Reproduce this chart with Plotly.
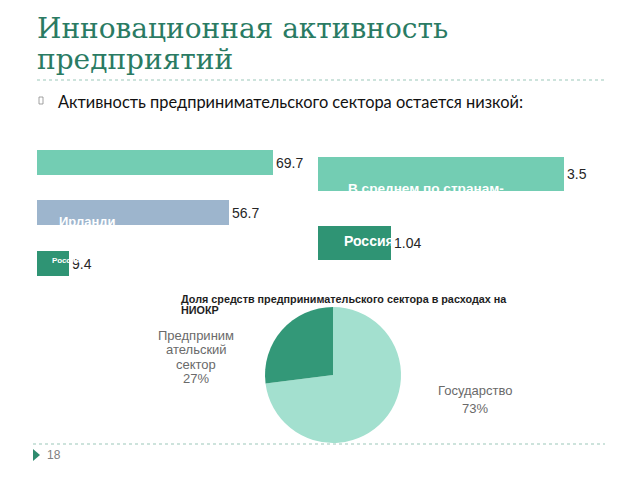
import plotly.graph_objects as go

# ---------------- data ----------------
title_lines = ["Инновационная активность", "предприятий"]
subtitle = "Активность предпринимательского сектора остается низкой:"

left_categories = ["Страна-лидер", "Ирландия", "Россия"]
left_values = [69.7, 56.7, 9.4]
left_inbar_text = ["", "Ирланди", "Россия"]

right_categories = ["В среднем по странам-лидерам", "Россия"]
right_values = [3.5, 1.04]
right_inbar_text = ["В среднем по странам-", "Россия"]

pie_labels = ["Государство", "Предпринимательский сектор"]
pie_values = [73, 27]
pie_label_lines = [["Государство"], ["Предприним", "ательский", "сектор"]]
pie_title_lines = ["Доля средств предпринимательского сектора в расходах на", "НИОКР"]
page_number = "18"

# ---------------- style ----------------
W, H = 640, 480
def px(x): return x / W
def py(y): return 1 - y / H

MINT = "#73cdb3"
BLUEGREY = "#9db5cd"
DARK = "#2f9474"
PIE_LIGHT = "#a3e0cf"
PIE_DARK = "#339878"
TITLE_C = "#2a7b63"
DOT_C = "#9cc7ba"

fig = go.Figure()

# left bars
fig.add_trace(go.Bar(
    y=left_categories, x=left_values, orientation="h",
    marker=dict(color=[MINT, BLUEGREY, DARK], line=dict(width=0)),
    width=0.49,
    text=[f"{v}" for v in left_values], textposition="outside",
    textfont=dict(family="Liberation Sans", size=14, color="#262626"),
    cliponaxis=False, xaxis="x", yaxis="y", showlegend=False, hoverinfo="skip"))

# right bars
fig.add_trace(go.Bar(
    y=right_categories, x=right_values, orientation="h",
    marker=dict(color=[MINT, DARK], line=dict(width=0)),
    width=0.49,
    text=[f"{v}" for v in right_values], textposition="outside",
    textfont=dict(family="Liberation Sans", size=14, color="#262626"),
    cliponaxis=False, xaxis="x2", yaxis="y2", showlegend=False, hoverinfo="skip"))

# pie
fig.add_trace(go.Pie(
    labels=pie_labels, values=pie_values, sort=False, direction="clockwise",
    rotation=0, marker=dict(colors=[PIE_LIGHT, PIE_DARK], line=dict(width=0)),
    textinfo="none", showlegend=False, hoverinfo="skip",
    domain=dict(x=[px(265), px(401)], y=[py(443), py(307)])))

ax_common = dict(visible=False, showgrid=False, zeroline=False, fixedrange=True)

# left scale: 69.7 -> 236 px
lx0, lx1 = 37, 330
lscale = 236 / 69.7
# right scale: 3.5 -> 246 px
rx0, rx1 = 318, 620
rscale = 246 / 3.5

fig.update_layout(
    width=W, height=H, autosize=False,
    margin=dict(l=0, r=0, t=0, b=0),
    paper_bgcolor="white", plot_bgcolor="rgba(0,0,0,0)",
    xaxis=dict(domain=[px(lx0), px(lx1)], range=[0, (lx1 - lx0) / lscale], anchor="y", **ax_common),
    yaxis=dict(domain=[py(288.5), py(137)], range=[2.5, -0.5], type="category",
               categoryorder="array", categoryarray=left_categories, anchor="x", **ax_common),
    xaxis2=dict(domain=[px(rx0), px(rx1)], range=[0, (rx1 - rx0) / rscale], anchor="y2", **ax_common),
    yaxis2=dict(domain=[py(277.5), py(138.5)], range=[1.5, -0.5], type="category",
                categoryorder="array", categoryarray=right_categories, anchor="x2", **ax_common),
    bargap=0,
)

ann = []
# title
ann.append(dict(text=title_lines[0], x=px(35), y=py(28), xref="paper", yref="paper",
                xanchor="left", yanchor="middle", showarrow=False,
                font=dict(family="DejaVu Serif", size=28, color=TITLE_C)))
ann.append(dict(text=title_lines[1], x=px(35), y=py(59), xref="paper", yref="paper",
                xanchor="left", yanchor="middle", showarrow=False,
                font=dict(family="DejaVu Serif", size=28, color=TITLE_C)))
# subtitle
ann.append(dict(text=subtitle, x=px(56), y=py(101), xref="paper", yref="paper",
                xanchor="left", yanchor="middle", showarrow=False,
                font=dict(family="Lato", size=16.4, color="#111111")))

# in-bar white labels (left)
left_shifts = [(0, 0, 14), (20, -9, 13), (13, 3, 8)]
for cat, t, (xs, ys, fs) in zip(left_categories, left_inbar_text, left_shifts):
    if t:
        ann.append(dict(text=f"<b>{t}</b>", x=0, y=cat, xref="x", yref="y",
                        xanchor="left", yanchor="middle", xshift=xs, yshift=ys,
                        showarrow=False,
                        font=dict(family="Liberation Sans", size=fs, color="white")))
# in-bar white labels (right)
right_shifts = [(28, -15, 13.6), (24, 2, 14)]
for cat, t, (xs, ys, fs) in zip(right_categories, right_inbar_text, right_shifts):
    ann.append(dict(text=f"<b>{t}</b>", x=0, y=cat, xref="x2", yref="y2",
                    xanchor="left", yanchor="middle", xshift=xs, yshift=ys,
                    showarrow=False,
                    font=dict(family="Liberation Sans", size=fs, color="white")))

# pie title
for i, line in enumerate(pie_title_lines):
    ann.append(dict(text=f"<b>{line}</b>", x=px(179), y=py(299 + 11 * i), xref="paper", yref="paper",
                    xanchor="left", yanchor="middle", showarrow=False,
                    font=dict(family="Liberation Sans", size=10.8, color="#1e1e1e")))

# pie labels
pie_label_pos = [(475, [390, 408]), (196, [335, 349, 364, 378])]
for lines, v, (cx, ys) in zip(pie_label_lines, pie_values, pie_label_pos):
    full = lines + [f"{v}%"]
    for line, yy in zip(full, ys):
        ann.append(dict(text=line, x=px(cx), y=py(yy), xref="paper", yref="paper",
                        xanchor="center", yanchor="middle", showarrow=False,
                        font=dict(family="Liberation Sans", size=13, color="#6a6a6a")))

# page number
ann.append(dict(text=page_number, x=px(45), y=py(455), xref="paper", yref="paper",
                xanchor="left", yanchor="middle", showarrow=False,
                font=dict(family="Liberation Sans", size=12, color="#808080")))

fig.update_layout(annotations=ann)

shapes = []
# dotted separators
shapes.append(dict(type="line", xref="paper", yref="paper", x0=px(37), x1=px(605),
                   y0=py(80), y1=py(80), line=dict(color=DOT_C, width=1.2, dash="dot")))
shapes.append(dict(type="line", xref="paper", yref="paper", x0=px(33), x1=px(605),
                   y0=py(444), y1=py(444), line=dict(color=DOT_C, width=1.2, dash="dot")))
# bullet box
shapes.append(dict(type="rect", xref="paper", yref="paper", x0=px(39), x1=px(43),
                   y0=py(104), y1=py(97), line=dict(color="#8a8a8a", width=0.8)))
# footer triangle
shapes.append(dict(type="path", xref="paper", yref="paper",
                   path=f"M {px(33)} {py(449)} L {px(40)} {py(455)} L {px(33)} {py(461)} Z",
                   fillcolor="#2e8b6e", line=dict(width=0)))
fig.update_layout(shapes=shapes)

fig.write_html("out.html", config={"displayModeBar": False},
               post_script="document.body.style.margin='0';")
